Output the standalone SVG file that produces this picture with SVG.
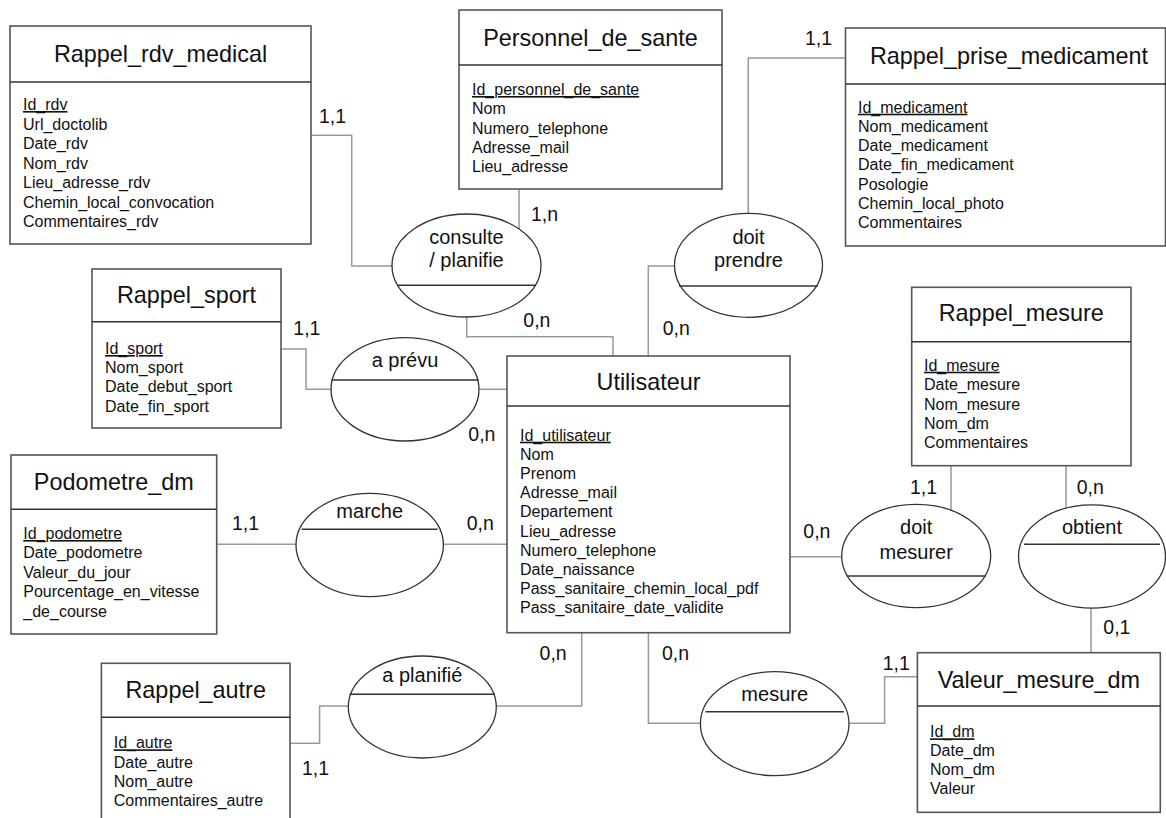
<svg xmlns="http://www.w3.org/2000/svg" width="1166" height="818" viewBox="0 0 1166 818">
<style>
.box{fill:#fff;stroke:#555;stroke-width:1.6}
.div{stroke:#333;stroke-width:1.4}
.ell{fill:#fff;stroke:#333;stroke-width:1.3}
.con{fill:none;stroke:#999;stroke-width:1.5}
.title{font-family:"Liberation Sans",Arial,sans-serif;font-size:23.4px;fill:#111;text-anchor:middle}
.attr{font-family:"Liberation Sans",Arial,sans-serif;font-size:16px;fill:#111}
.id{text-decoration:underline}
.rel{font-family:"Liberation Sans",Arial,sans-serif;font-size:20px;fill:#111;text-anchor:middle}
.card{font-family:"Liberation Sans",Arial,sans-serif;font-size:19.5px;fill:#111}
</style>
<rect width="1166" height="818" fill="#fff"/>
<g id="connectors">
<path class="con" d="M311,135.3 H351.7 V266 H392"/>
<path class="con" d="M519,189 V229"/>
<path class="con" d="M466.7,317 V336.7 H613 V356"/>
<path class="con" d="M846,58 H748.3 V213.3"/>
<path class="con" d="M674.5,266 H648.3 V356"/>
<path class="con" d="M281,349 H306 V389.3 H331"/>
<path class="con" d="M479,389.3 H507"/>
<path class="con" d="M217,544.3 H296"/>
<path class="con" d="M443.3,544.3 H507"/>
<path class="con" d="M790,556.7 H841.7"/>
<path class="con" d="M951,465.7 V510.3"/>
<path class="con" d="M1066,465.7 V507"/>
<path class="con" d="M1091,608 V652.7"/>
<path class="con" d="M581.7,632.7 V706 H496.3"/>
<path class="con" d="M348.3,706 H319.6 V743.3 H290"/>
<path class="con" d="M648.4,632.7 V723.3 H700.3"/>
<path class="con" d="M849,723.3 H884.6 V676.7 H917.4"/>
<text class="card" x="319" y="123">1,1</text>
<text class="card" x="531" y="221">1,n</text>
<text class="card" x="523.3" y="327">0,n</text>
<text class="card" x="805" y="45">1,1</text>
<text class="card" x="662.7" y="335">0,n</text>
<text class="card" x="293.3" y="335">1,1</text>
<text class="card" x="468.3" y="441">0,n</text>
<text class="card" x="232" y="529.5">1,1</text>
<text class="card" x="466.7" y="529.5">0,n</text>
<text class="card" x="803.3" y="537.5">0,n</text>
<text class="card" x="910" y="493.5">1,1</text>
<text class="card" x="1076.7" y="493.5">0,n</text>
<text class="card" x="1103.3" y="634">0,1</text>
<text class="card" x="539.6" y="660">0,n</text>
<text class="card" x="662" y="660">0,n</text>
<text class="card" x="882.7" y="670">1,1</text>
<text class="card" x="302" y="775">1,1</text>
</g>
<g id="Rappel_rdv_medical">
<rect class="box" x="10" y="26" width="301" height="218"/>
<line class="div" x1="10" y1="82" x2="311" y2="82"/>
<text class="title" x="160.5" y="62">Rappel_rdv_medical</text>
<text class="attr" x="23" y="110"><tspan class="id">Id_rdv</tspan><tspan x="23" dy="19.5">Url_doctolib</tspan><tspan x="23" dy="19.5">Date_rdv</tspan><tspan x="23" dy="19.5">Nom_rdv</tspan><tspan x="23" dy="19.5">Lieu_adresse_rdv</tspan><tspan x="23" dy="19.5">Chemin_local_convocation</tspan><tspan x="23" dy="19.5">Commentaires_rdv</tspan></text>
</g>
<g id="Personnel_de_sante">
<rect class="box" x="459" y="10" width="263" height="179"/>
<line class="div" x1="459" y1="65" x2="722" y2="65"/>
<text class="title" x="590.5" y="45.5">Personnel_de_sante</text>
<text class="attr" x="472" y="95"><tspan class="id">Id_personnel_de_sante</tspan><tspan x="472" dy="19.3">Nom</tspan><tspan x="472" dy="19.3">Numero_telephone</tspan><tspan x="472" dy="19.3">Adresse_mail</tspan><tspan x="472" dy="19.3">Lieu_adresse</tspan></text>
</g>
<g id="Rappel_prise_medicament">
<rect class="box" x="845.5" y="28" width="320" height="218"/>
<line class="div" x1="845.5" y1="84" x2="1166" y2="84"/>
<text class="title" x="1009" y="63.5">Rappel_prise_medicament</text>
<text class="attr" x="858" y="112.7"><tspan class="id">Id_medicament</tspan><tspan x="858" dy="19.2">Nom_medicament</tspan><tspan x="858" dy="19.2">Date_medicament</tspan><tspan x="858" dy="19.2">Date_fin_medicament</tspan><tspan x="858" dy="19.2">Posologie</tspan><tspan x="858" dy="19.2">Chemin_local_photo</tspan><tspan x="858" dy="19.2">Commentaires</tspan></text>
</g>
<g id="Rappel_sport">
<rect class="box" x="92" y="269" width="189" height="159"/>
<line class="div" x1="92" y1="321.7" x2="281" y2="321.7"/>
<text class="title" x="186.5" y="303.3">Rappel_sport</text>
<text class="attr" x="105" y="354"><tspan class="id">Id_sport</tspan><tspan x="105" dy="19.2">Nom_sport</tspan><tspan x="105" dy="19.2">Date_debut_sport</tspan><tspan x="105" dy="19.2">Date_fin_sport</tspan></text>
</g>
<g id="Utilisateur">
<rect class="box" x="507" y="356" width="283" height="276.7"/>
<line class="div" x1="507" y1="406" x2="790" y2="406"/>
<text class="title" x="648.5" y="390">Utilisateur</text>
<text class="attr" x="520" y="440.7"><tspan class="id">Id_utilisateur</tspan><tspan x="520" dy="19.18">Nom</tspan><tspan x="520" dy="19.18">Prenom</tspan><tspan x="520" dy="19.18">Adresse_mail</tspan><tspan x="520" dy="19.18">Departement</tspan><tspan x="520" dy="19.18">Lieu_adresse</tspan><tspan x="520" dy="19.18">Numero_telephone</tspan><tspan x="520" dy="19.18">Date_naissance</tspan><tspan x="520" dy="19.18">Pass_sanitaire_chemin_local_pdf</tspan><tspan x="520" dy="19.18">Pass_sanitaire_date_validite</tspan></text>
</g>
<g id="Rappel_mesure">
<rect class="box" x="911.7" y="287.3" width="219.3" height="178.4"/>
<line class="div" x1="911.7" y1="341.7" x2="1131" y2="341.7"/>
<text class="title" x="1021.3" y="320.7">Rappel_mesure</text>
<text class="attr" x="924" y="370.7"><tspan class="id">Id_mesure</tspan><tspan x="924" dy="19.4">Date_mesure</tspan><tspan x="924" dy="19.4">Nom_mesure</tspan><tspan x="924" dy="19.4">Nom_dm</tspan><tspan x="924" dy="19.4">Commentaires</tspan></text>
</g>
<g id="Podometre_dm">
<rect class="box" x="11" y="455" width="205.7" height="179"/>
<line class="div" x1="11" y1="509.3" x2="216.7" y2="509.3"/>
<text class="title" x="113.8" y="490">Podometre_dm</text>
<text class="attr" x="23.3" y="539"><tspan class="id">Id_podometre</tspan><tspan x="23.3" dy="19.4">Date_podometre</tspan><tspan x="23.3" dy="19.4">Valeur_du_jour</tspan><tspan x="23.3" dy="19.4">Pourcentage_en_vitesse</tspan><tspan x="23.3" dy="19.4">_de_course</tspan></text>
</g>
<g id="Rappel_autre">
<rect class="box" x="101.4" y="663.3" width="188.6" height="170"/>
<line class="div" x1="101.4" y1="717.3" x2="290" y2="717.3"/>
<text class="title" x="195.7" y="698.3">Rappel_autre</text>
<text class="attr" x="113.7" y="748.3"><tspan class="id">Id_autre</tspan><tspan x="113.7" dy="19.3">Date_autre</tspan><tspan x="113.7" dy="19.3">Nom_autre</tspan><tspan x="113.7" dy="19.3">Commentaires_autre</tspan></text>
</g>
<g id="Valeur_mesure_dm">
<rect class="box" x="917.4" y="652.7" width="242.9" height="159.6"/>
<line class="div" x1="917.4" y1="706" x2="1160.3" y2="706"/>
<text class="title" x="1038.9" y="687.7">Valeur_mesure_dm</text>
<text class="attr" x="930" y="737.3"><tspan class="id">Id_dm</tspan><tspan x="930" dy="19">Date_dm</tspan><tspan x="930" dy="19">Nom_dm</tspan><tspan x="930" dy="19">Valeur</tspan></text>
</g>
<g id="rel_consulte_planifie">
<ellipse class="ell" cx="466.5" cy="265.5" rx="74.5" ry="51.5"/>
<line class="div" x1="397.7" y1="285.3" x2="535.3" y2="285.3"/>
<text class="rel" x="466.5" y="244">consulte</text>
<text class="rel" x="466.5" y="267.3">/ planifie</text>
</g>
<g id="rel_doit_prendre">
<ellipse class="ell" cx="748.5" cy="265.3" rx="74" ry="52"/>
<line class="div" x1="679" y1="286" x2="818" y2="286"/>
<text class="rel" x="748.5" y="244">doit</text>
<text class="rel" x="748.5" y="266.7">prendre</text>
</g>
<g id="rel_a_prevu">
<ellipse class="ell" cx="405" cy="389.3" rx="74" ry="51.7"/>
<line class="div" x1="331.5" y1="380" x2="478.5" y2="380"/>
<text class="rel" x="405" y="366.7">a prévu</text>
</g>
<g id="rel_marche">
<ellipse class="ell" cx="369.7" cy="545" rx="73.7" ry="51.7"/>
<line class="div" x1="301.7" y1="529.3" x2="437.7" y2="529.3"/>
<text class="rel" x="369.7" y="517.7">marche</text>
</g>
<g id="rel_doit_mesurer">
<ellipse class="ell" cx="916.2" cy="556" rx="74.5" ry="51.7"/>
<line class="div" x1="846.7" y1="576" x2="985.7" y2="576"/>
<text class="rel" x="916.2" y="534">doit</text>
<text class="rel" x="916.2" y="559">mesurer</text>
</g>
<g id="rel_obtient">
<ellipse class="ell" cx="1092" cy="556.5" rx="73.5" ry="51.7"/>
<line class="div" x1="1024" y1="544.3" x2="1160" y2="544.3"/>
<text class="rel" x="1092" y="534">obtient</text>
</g>
<g id="rel_a_planifie">
<ellipse class="ell" cx="422.3" cy="707" rx="74" ry="51"/>
<line class="div" x1="349.5" y1="694.3" x2="495" y2="694.3"/>
<text class="rel" x="422.3" y="682.3">a planifié</text>
</g>
<g id="rel_mesure">
<ellipse class="ell" cx="774.7" cy="723.7" rx="74.3" ry="52"/>
<line class="div" x1="705.5" y1="711.7" x2="843.9" y2="711.7"/>
<text class="rel" x="774.7" y="700.7">mesure</text>
</g>
</svg>
